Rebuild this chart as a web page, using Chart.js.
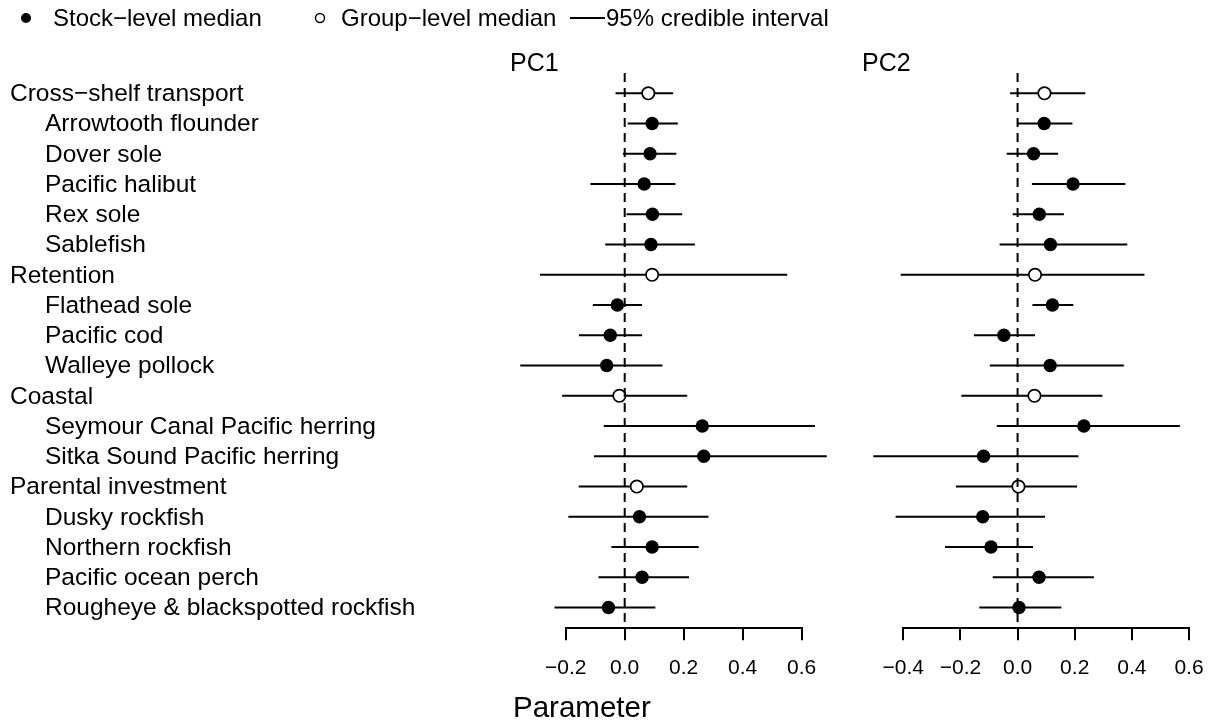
<!DOCTYPE html>
<html>
<head>
<meta charset="utf-8">
<script src="https://cdn.jsdelivr.net/npm/chart.js@4"></script>
<style>
  html, body { margin: 0; padding: 0; background: #fff; }
  #wrap { position: relative; width: 1213px; height: 723px; overflow: hidden; }
  canvas { position: absolute; top: 0; }
</style>
</head>
<body>
<div id="wrap">
  <canvas id="pc1" width="850" height="723" style="left:0"></canvas>
  <canvas id="pc2" width="420" height="723" style="left:850px"></canvas>
</div>
<script>
// rows, top to bottom; group rows get an open circle
const rowLabels = [
  'Cross\u2212shelf transport', 'Arrowtooth flounder', 'Dover sole', 'Pacific halibut', 'Rex sole', 'Sablefish',
  'Retention', 'Flathead sole', 'Pacific cod', 'Walleye pollock',
  'Coastal', 'Seymour Canal Pacific herring', 'Sitka Sound Pacific herring',
  'Parental investment', 'Dusky rockfish', 'Northern rockfish', 'Pacific ocean perch', 'Rougheye & blackspotted rockfish'
];
const isGroup = [true, false, false, false, false, false, true, false, false, false, true, false, false, true, false, false, false, false];

const pc1Median = [0.080, 0.093, 0.086, 0.066, 0.094, 0.089, 0.093, -0.025, -0.049, -0.061, -0.018, 0.263, 0.268, 0.041, 0.050, 0.093, 0.059, -0.055];
const pc1Lower  = [-0.031, 0.010, -0.006, -0.116, 0.006, -0.066, -0.287, -0.108, -0.155, -0.354, -0.212, -0.071, -0.104, -0.156, -0.191, -0.045, -0.089, -0.238];
const pc1Upper  = [0.164, 0.180, 0.175, 0.172, 0.195, 0.238, 0.551, 0.059, 0.059, 0.128, 0.212, 0.645, 0.685, 0.212, 0.284, 0.251, 0.218, 0.104];

const pc2Median = [0.094, 0.093, 0.056, 0.194, 0.076, 0.115, 0.061, 0.122, -0.048, 0.114, 0.059, 0.232, -0.119, 0.003, -0.122, -0.093, 0.075, 0.005];
const pc2Lower  = [-0.026, -0.002, -0.038, 0.050, -0.017, -0.063, -0.409, 0.052, -0.153, -0.097, -0.197, -0.073, -0.505, -0.216, -0.427, -0.254, -0.087, -0.134];
const pc2Upper  = [0.237, 0.192, 0.142, 0.377, 0.162, 0.384, 0.444, 0.195, 0.061, 0.372, 0.297, 0.568, 0.213, 0.208, 0.096, 0.054, 0.267, 0.153];

const pc1Ticks = [-0.2, 0, 0.2, 0.4, 0.6];
const pc2Ticks = [-0.4, -0.2, 0, 0.2, 0.4, 0.6];

const FONT = '"Liberation Sans", Arial, Helvetica, sans-serif';

// R style numbers: one decimal, real minus sign
function fmt(v) {
  const s = (Math.abs(v) < 1e-9 ? 0 : v).toFixed(1);
  return s.replace('-', '\u2212');
}

// one line segment per row, broken by empty points
function intervalPoints(lower, upper) {
  const pts = [];
  lower.forEach((lo, i) => {
    pts.push({x: lo, y: i}, {x: upper[i], y: i}, {x: null, y: null});
  });
  return pts;
}

function medianPoints(median, wantGroup) {
  const pts = [];
  median.forEach((m, i) => {
    if (isGroup[i] === wantGroup) pts.push({x: m, y: i});
  });
  return pts;
}

// dashed vertical line at zero, drawn over the marks
const zeroLine = {
  id: 'zeroLine',
  afterDatasetsDraw(chart) {
    const ctx = chart.ctx;
    const x = chart.scales.x.getPixelForValue(0);
    ctx.save();
    ctx.strokeStyle = '#000';
    ctx.lineWidth = 2;
    ctx.setLineDash([9, 6]);
    ctx.beginPath();
    ctx.moveTo(x, chart.chartArea.top);
    ctx.lineTo(x, chart.chartArea.bottom);
    ctx.stroke();
    ctx.restore();
  }
};

function panelTitle(text, x) {
  return {
    id: 'title_' + text,
    afterDraw(chart) {
      const ctx = chart.ctx;
      ctx.save();
      ctx.fillStyle = '#000';
      ctx.font = '25px ' + FONT;
      ctx.textAlign = 'left';
      ctx.textBaseline = 'middle';
      ctx.fillText(text, x, 64);
      ctx.restore();
    }
  };
}

// row names, legend and x label live on the left panel
const leftText = {
  id: 'leftText',
  afterDraw(chart) {
    const ctx = chart.ctx;
    const yScale = chart.scales.y;
    ctx.save();
    ctx.fillStyle = '#000';
    ctx.strokeStyle = '#000';
    ctx.textAlign = 'left';
    ctx.textBaseline = 'middle';
    ctx.font = '24.5px ' + FONT;
    rowLabels.forEach((lab, i) => {
      ctx.fillText(lab, isGroup[i] ? 10 : 45, yScale.getPixelForValue(i) + 1);
    });

    // legend
    ctx.font = '24px ' + FONT;
    const ly = 18;
    ctx.beginPath();
    ctx.arc(26, ly, 5, 0, Math.PI * 2);
    ctx.fill();
    ctx.fillText('Stock\u2212level median', 53, ly + 1);
    ctx.lineWidth = 1.4;
    ctx.beginPath();
    ctx.arc(320, ly, 4.5, 0, Math.PI * 2);
    ctx.stroke();
    ctx.fillText('Group\u2212level median', 341, ly + 1);
    ctx.lineWidth = 2;
    ctx.beginPath();
    ctx.moveTo(570, ly);
    ctx.lineTo(605, ly);
    ctx.stroke();
    ctx.fillText('95% credible interval', 606, ly + 1);

    ctx.font = '29.5px ' + FONT;
    ctx.textBaseline = 'alphabetic';
    ctx.fillText('Parameter', 513, 717);
    ctx.restore();
  }
};

function makePanel(canvas, median, lower, upper, ticks, range, pad, extraPlugins) {
  return new Chart(canvas, {
    type: 'scatter',
    data: {
      datasets: [
        {
          data: medianPoints(median, false),
          pointStyle: 'circle',
          pointRadius: 6.7,
          backgroundColor: '#000',
          borderColor: '#000',
          borderWidth: 0,
          order: 1
        },
        {
          data: medianPoints(median, true),
          pointStyle: 'circle',
          pointRadius: 6.2,
          backgroundColor: '#fff',
          borderColor: '#000',
          borderWidth: 1.7,
          order: 1
        },
        {
          data: intervalPoints(lower, upper),
          showLine: true,
          spanGaps: false,
          pointRadius: 0,
          borderColor: '#000',
          borderWidth: 2,
          order: 2
        }
      ]
    },
    options: {
      responsive: false,
      animation: false,
      devicePixelRatio: 1,
      events: [],
      clip: false,
      layout: { padding: { left: pad.left, right: pad.right, top: 73, bottom: 0 } },
      plugins: { legend: { display: false }, tooltip: { enabled: false } },
      scales: {
        x: {
          type: 'linear',
          position: 'bottom',
          min: range[0],
          max: range[1],
          afterBuildTicks: (s) => { s.ticks = ticks.map(v => ({ value: v })); },
          afterFit: (s) => { s.height = 723 - 628.3; },
          border: { display: true, color: '#000', width: 2 },
          grid: { drawOnChartArea: false, drawTicks: true, tickLength: 12, color: '#000', lineWidth: 2 },
          ticks: {
            color: '#000',
            font: { family: FONT, size: 21 },
            padding: 15,
            maxRotation: 0,
            autoSkip: false,
            callback: (v) => fmt(v)
          }
        },
        y: { type: 'linear', display: false, reverse: true, min: -0.671, max: 17.686 }
      }
    },
    plugins: [zeroLine].concat(extraPlugins)
  });
}

// left panel canvas starts at x = 0, right panel canvas at x = 850 (420 wide, clipped by the wrapper)
makePanel(document.getElementById('pc1'), pc1Median, pc1Lower, pc1Upper, pc1Ticks,
  [-0.2, 0.6], { left: 565.7, right: 850 - 801.7 }, [panelTitle('PC1', 510), leftText]);

makePanel(document.getElementById('pc2'), pc2Median, pc2Lower, pc2Upper, pc2Ticks,
  [-0.4, 0.6], { left: 903.3 - 850, right: 850 + 420 - 1189 }, [panelTitle('PC2', 12)]);
</script>
</body>
</html>
